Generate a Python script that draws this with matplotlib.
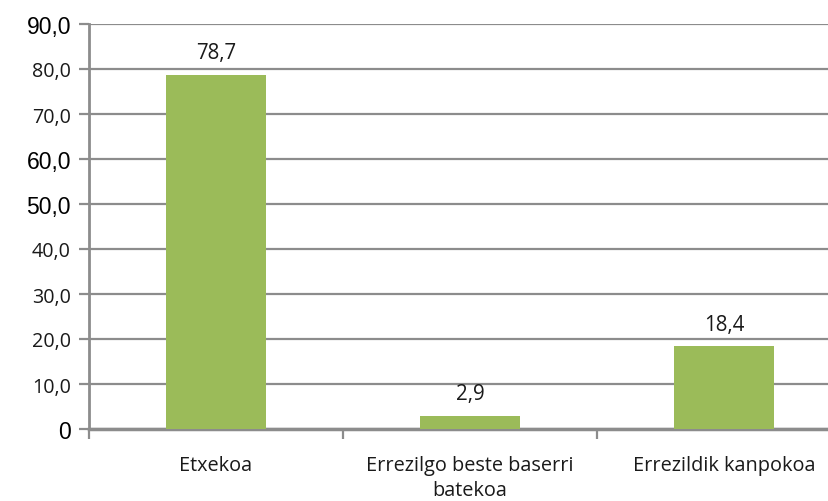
import matplotlib
matplotlib.use("Agg")
import matplotlib.pyplot as plt

categories = ["Etxekoa", "Errezilgo beste baserri\nbatekoa", "Errezildik kanpokoa"]
values = [78.7, 2.9, 18.4]
value_labels = ["78,7", "2,9", "18,4"]
yticks = [0, 10, 20, 30, 40, 50, 60, 70, 80, 90]
ytick_labels = ["0", "10,0", "20,0", "30,0", "40,0", "50,0", "60,0", "70,0", "80,0", "90,0"]
bold_ticks = {"0", "50,0", "60,0", "90,0"}

W, H = 829, 502
fig = plt.figure(figsize=(W / 100, H / 100), dpi=100)
x0, x1 = 89, 851
ytop, ybot = 25, 430
ax = fig.add_axes([x0 / W, 1 - ybot / H, (x1 - x0) / W, (ybot - ytop) / H])

grid_c = "#8c8c8c"
bar_c = "#9BBB59"
xs = list(range(len(categories)))
ax.bar(xs, values, width=0.395, color=bar_c, zorder=3)
ax.set_xlim(-0.5, len(categories) - 0.5)
ax.set_ylim(0, 90)
ax.set_yticks(yticks)
ax.yaxis.grid(True, color=grid_c, linewidth=1.6, zorder=0)
ax.set_axisbelow(True)

for s in ["top", "right"]:
    ax.spines[s].set_visible(False)
ax.spines["left"].set_color(grid_c)
ax.spines["left"].set_linewidth(2.0)
ax.spines["bottom"].set_color(grid_c)
ax.spines["bottom"].set_linewidth(2.5)

ax.tick_params(axis="y", length=7, width=1.6, color=grid_c, pad=6)
ax.set_yticklabels(ytick_labels)
for lab in ax.get_yticklabels():
    if lab.get_text() in bold_ticks:
        lab.set_fontfamily("Liberation Sans")
        lab.set_fontsize(16.5)
        lab.set_color("#000000")
    else:
        lab.set_fontfamily("Open Sans")
        lab.set_fontsize(14.2)
        lab.set_color("#1a1a1a")

ax.set_xticks([-0.5, 0.5, 1.5, 2.5])
ax.set_xticklabels([])
ax.tick_params(axis="x", length=7, width=1.6, color=grid_c)
for x, c in zip(xs, categories):
    ax.text(x, -5.7, c, ha="center", va="top", fontsize=14.3, family="Open Sans",
            color="#1a1a1a", linespacing=1.33)

for x, v, lab in zip(xs, values, value_labels):
    ax.text(x, v + 2.6, lab, ha="center", va="bottom", fontsize=14.8,
            family="Open Sans", color="#1a1a1a")

fig.savefig("out.png", dpi=100)
